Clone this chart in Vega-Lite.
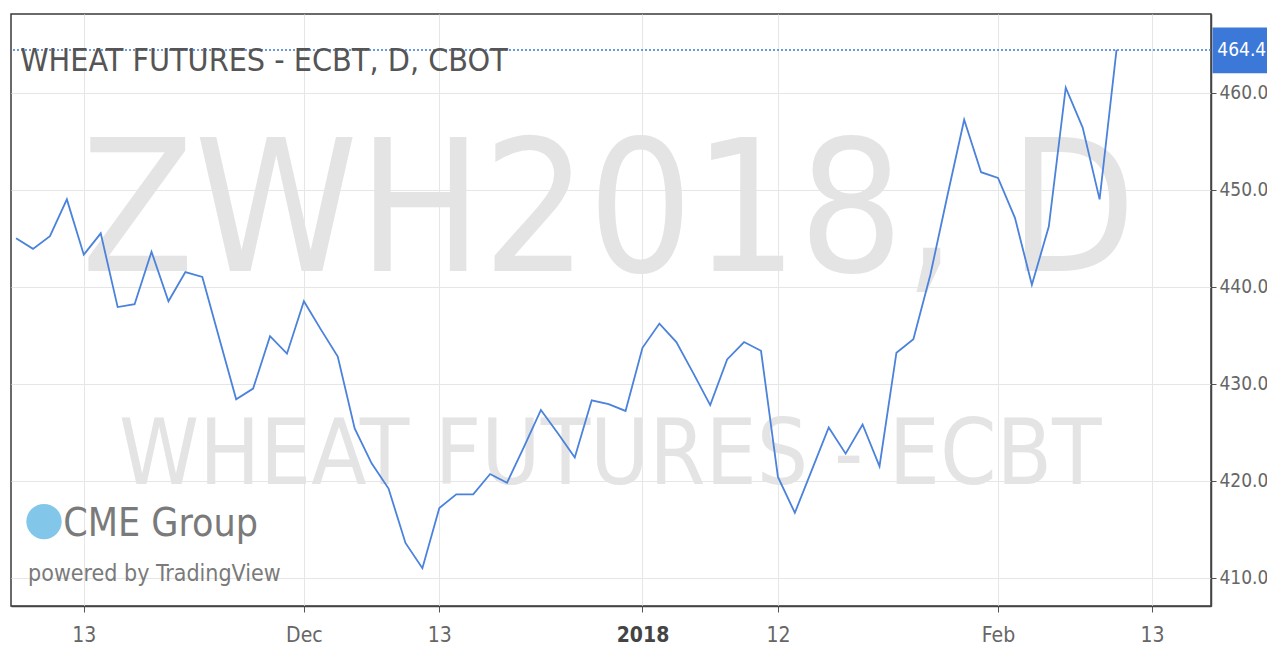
{
  "$schema": "https://vega.github.io/schema/vega-lite/v6.json",
  "width": 1200,
  "height": 592,
  "autosize": "none",
  "padding": {"left": 11, "top": 14, "right": 56, "bottom": 52},
  "background": "#ffffff",
  "config": {
    "view": {"stroke": "#3a3a3a", "strokeWidth": 1.5},
    "font": "'Liberation Sans Narrow', 'DejaVu Sans Condensed', 'Liberation Sans', sans-serif"
  },
  "data": {
    "values": [
      {"i": 0, "date": "2017-11-07", "close": 445.0},
      {"i": 1, "date": "2017-11-08", "close": 443.9},
      {"i": 2, "date": "2017-11-09", "close": 445.2},
      {"i": 3, "date": "2017-11-10", "close": 449.0},
      {"i": 4, "date": "2017-11-13", "close": 443.3},
      {"i": 5, "date": "2017-11-14", "close": 445.5},
      {"i": 6, "date": "2017-11-15", "close": 437.9},
      {"i": 7, "date": "2017-11-16", "close": 438.2},
      {"i": 8, "date": "2017-11-17", "close": 443.6},
      {"i": 9, "date": "2017-11-20", "close": 438.5},
      {"i": 10, "date": "2017-11-21", "close": 441.5},
      {"i": 11, "date": "2017-11-22", "close": 441.0},
      {"i": 12, "date": "2017-11-24", "close": 434.7},
      {"i": 13, "date": "2017-11-27", "close": 428.4},
      {"i": 14, "date": "2017-11-28", "close": 429.5},
      {"i": 15, "date": "2017-11-29", "close": 434.9},
      {"i": 16, "date": "2017-11-30", "close": 433.1},
      {"i": 17, "date": "2017-12-01", "close": 438.5},
      {"i": 18, "date": "2017-12-04", "close": 435.6},
      {"i": 19, "date": "2017-12-05", "close": 432.8},
      {"i": 20, "date": "2017-12-06", "close": 425.4},
      {"i": 21, "date": "2017-12-07", "close": 421.8},
      {"i": 22, "date": "2017-12-08", "close": 419.2},
      {"i": 23, "date": "2017-12-11", "close": 413.6},
      {"i": 24, "date": "2017-12-12", "close": 411.0},
      {"i": 25, "date": "2017-12-13", "close": 417.2},
      {"i": 26, "date": "2017-12-14", "close": 418.6},
      {"i": 27, "date": "2017-12-15", "close": 418.6},
      {"i": 28, "date": "2017-12-18", "close": 420.7},
      {"i": 29, "date": "2017-12-19", "close": 419.8},
      {"i": 30, "date": "2017-12-20", "close": 423.5},
      {"i": 31, "date": "2017-12-21", "close": 427.3},
      {"i": 32, "date": "2017-12-22", "close": 424.9},
      {"i": 33, "date": "2017-12-26", "close": 422.4},
      {"i": 34, "date": "2017-12-27", "close": 428.3},
      {"i": 35, "date": "2017-12-28", "close": 427.9},
      {"i": 36, "date": "2017-12-29", "close": 427.2},
      {"i": 37, "date": "2018-01-02", "close": 433.7},
      {"i": 38, "date": "2018-01-03", "close": 436.2},
      {"i": 39, "date": "2018-01-04", "close": 434.3},
      {"i": 40, "date": "2018-01-05", "close": 431.1},
      {"i": 41, "date": "2018-01-08", "close": 427.8},
      {"i": 42, "date": "2018-01-09", "close": 432.5},
      {"i": 43, "date": "2018-01-10", "close": 434.3},
      {"i": 44, "date": "2018-01-11", "close": 433.4},
      {"i": 45, "date": "2018-01-12", "close": 420.4},
      {"i": 46, "date": "2018-01-16", "close": 416.7},
      {"i": 47, "date": "2018-01-17", "close": 421.1},
      {"i": 48, "date": "2018-01-18", "close": 425.5},
      {"i": 49, "date": "2018-01-19", "close": 422.8},
      {"i": 50, "date": "2018-01-22", "close": 425.8},
      {"i": 51, "date": "2018-01-23", "close": 421.5},
      {"i": 52, "date": "2018-01-24", "close": 433.2},
      {"i": 53, "date": "2018-01-25", "close": 434.6},
      {"i": 54, "date": "2018-01-26", "close": 441.2},
      {"i": 55, "date": "2018-01-29", "close": 449.3},
      {"i": 56, "date": "2018-01-30", "close": 457.2},
      {"i": 57, "date": "2018-01-31", "close": 451.8},
      {"i": 58, "date": "2018-02-01", "close": 451.2},
      {"i": 59, "date": "2018-02-02", "close": 447.1},
      {"i": 60, "date": "2018-02-05", "close": 440.2},
      {"i": 61, "date": "2018-02-06", "close": 446.2},
      {"i": 62, "date": "2018-02-07", "close": 460.5},
      {"i": 63, "date": "2018-02-08", "close": 456.4},
      {"i": 64, "date": "2018-02-09", "close": 449.0},
      {"i": 65, "date": "2018-02-12", "close": 464.4}
    ]
  },
  "layer": [
    {
      "data": {"values": [{}]},
      "mark": {"type": "text", "align": "center", "baseline": "middle", "fontSize": 184, "color": "#e4e4e4"},
      "encoding": {"x": {"datum": 35.0, "type": "quantitative"}, "y": {"datum": 447.3, "type": "quantitative"}, "text": {"value": "ZWH2018, D"}}
    },
    {
      "data": {"values": [{}]},
      "mark": {"type": "text", "align": "center", "baseline": "middle", "fontSize": 90, "color": "#e4e4e4"},
      "encoding": {"x": {"datum": 35.1, "type": "quantitative"}, "y": {"datum": 422.5, "type": "quantitative"}, "text": {"value": "WHEAT FUTURES - ECBT"}}
    },
    {
      "data": {"values": [{}]},
      "mark": {"type": "point", "shape": "circle", "filled": true, "size": 1250, "color": "#74c0e8", "opacity": 0.9},
      "encoding": {"x": {"datum": 1.65, "type": "quantitative"}, "y": {"datum": 415.8, "type": "quantitative"}}
    },
    {
      "data": {"values": [{}]},
      "mark": {"type": "text", "align": "left", "baseline": "middle", "fontSize": 39, "color": "#7a7a7a"},
      "encoding": {"x": {"datum": 2.78, "type": "quantitative"}, "y": {"datum": 415.6, "type": "quantitative"}, "text": {"value": "CME Group"}}
    },
    {
      "data": {"values": [{}]},
      "mark": {"type": "text", "align": "left", "baseline": "middle", "fontSize": 23, "color": "#7a7a7a"},
      "encoding": {"x": {"datum": 0.71, "type": "quantitative"}, "y": {"datum": 410.4, "type": "quantitative"}, "text": {"value": "powered by TradingView"}}
    },
    {
      "mark": {"type": "line", "color": "#4a82dc", "strokeWidth": 1.8},
      "encoding": {
        "x": {
          "field": "i",
          "type": "quantitative",
          "scale": {"domain": [-0.3, 70.58], "nice": false, "zero": false},
          "axis": {
            "title": null,
            "orient": "bottom",
            "values": [4, 17, 25, 37, 45, 58, 67.1],
            "labelExpr": "datum.value == 4 ? '13' : datum.value == 17 ? 'Dec' : datum.value == 25 ? '13' : datum.value == 37 ? '2018' : datum.value == 45 ? '12' : datum.value == 58 ? 'Feb' : '13'",
            "labelFontWeight": {"condition": {"test": "datum.value == 37", "value": "bold"}, "value": "normal"},
            "labelColor": {"condition": {"test": "datum.value == 37", "value": "#444444"}, "value": "#666666"},
            "labelFontSize": 21,
            "labelPadding": 12,
            "labelFlush": false,
            "labelOverlap": false,
            "tickSize": 6,
            "tickColor": "#555555",
            "domainColor": "#444444",
            "domainWidth": 1.5,
            "grid": true,
            "gridColor": "#e6e6e6",
            "gridWidth": 1
          }
        },
        "y": {
          "field": "close",
          "type": "quantitative",
          "scale": {"domain": [407.1, 468.1], "nice": false, "zero": false},
          "axis": {
            "title": null,
            "orient": "right",
            "values": [410, 420, 430, 440, 450, 460],
            "format": ".1f",
            "labelFontSize": 19,
            "labelColor": "#666666",
            "labelPadding": 3,
            "tickSize": 5,
            "tickColor": "#555555",
            "domainColor": "#444444",
            "domainWidth": 1.5,
            "grid": true,
            "gridColor": "#e6e6e6",
            "gridWidth": 1
          }
        }
      }
    },
    {
      "data": {"values": [{}]},
      "mark": {"type": "rule", "color": "#3c78d8", "strokeWidth": 1.5, "strokeDash": [2, 2]},
      "encoding": {"y": {"datum": 464.4, "type": "quantitative"}}
    },
    {
      "data": {"values": [{}]},
      "mark": {"type": "text", "align": "left", "baseline": "middle", "fontSize": 32, "color": "#555555"},
      "encoding": {"x": {"datum": 0.24, "type": "quantitative"}, "y": {"datum": 463.3, "type": "quantitative"}, "text": {"value": "WHEAT FUTURES - ECBT, D, CBOT"}}
    },
    {
      "data": {"values": [{}]},
      "mark": {"type": "rect", "color": "#3c78d8"},
      "encoding": {
        "x": {"datum": 70.67, "type": "quantitative"},
        "x2": {"datum": 74.5},
        "y": {"datum": 466.7, "type": "quantitative"},
        "y2": {"datum": 462.0}
      }
    },
    {
      "data": {"values": [{}]},
      "mark": {"type": "text", "align": "left", "baseline": "middle", "fontSize": 19, "color": "#ffffff"},
      "encoding": {"x": {"datum": 70.95, "type": "quantitative"}, "y": {"datum": 464.4, "type": "quantitative"}, "text": {"value": "464.4"}}
    }
  ]
}
